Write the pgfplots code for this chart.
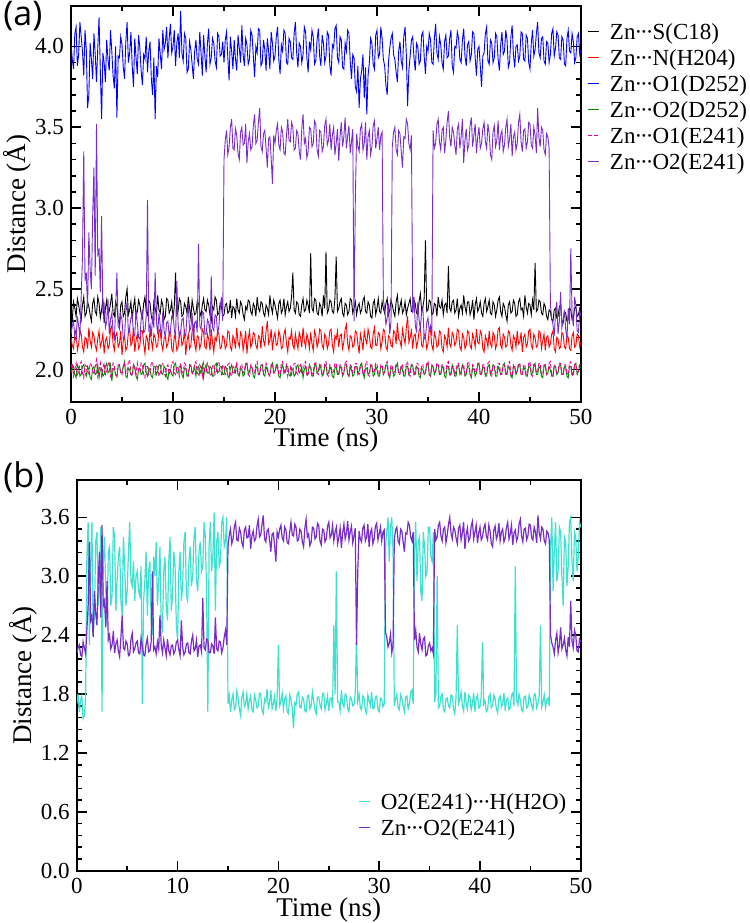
\documentclass[border=0pt]{standalone}
\usepackage{fontspec}
\setmainfont{Liberation Serif}
\newfontfamily\panelfont{Open Sans}
\usepackage{pgfplots}
\usepackage{pgfplotstable}
\pgfplotsset{compat=1.18}
\definecolor{cviol}{RGB}{120,45,200}
\definecolor{cturq}{RGB}{64,224,208}
\definecolor{cgreen}{RGB}{0,140,0}
\newcommand\cd{\kern-0.04em·\kern-0.09em·\kern-0.09em·\kern-0.04em}
\pgfplotstableread{
t S N B G M P C
0.000 2.36 2.20 4.02 1.98 2.01 2.22 1.70
0.125 2.31 2.15 3.92 2.01 2.04 2.27 1.80
0.250 2.42 2.13 3.86 2.02 1.96 2.30 1.62
0.375 2.38 2.22 4.08 1.97 2.00 2.20 1.74
0.500 2.33 2.25 4.12 1.95 2.04 2.18 1.78
0.625 2.44 2.12 3.88 2.03 1.97 2.33 1.55
0.750 2.40 2.16 3.95 2.01 1.99 2.27 1.58
0.875 2.35 2.24 4.15 1.96 2.03 2.21 1.75
1.000 2.31 2.22 4.06 1.97 2.05 2.45 3.20
1.125 2.40 2.14 3.97 2.02 1.98 2.70 3.55
1.250 2.45 2.11 3.82 2.03 1.95 3.35 2.30
1.375 2.33 2.20 4.10 1.98 2.03 2.55 3.10
1.500 2.35 2.19 3.98 1.96 2.02 2.60 3.55
1.625 2.42 2.13 3.62 2.02 1.97 2.38 2.40
1.750 2.39 2.26 3.70 2.00 1.98 2.85 2.60
1.875 2.34 2.18 4.02 1.95 2.04 2.62 3.35
2.000 2.30 2.14 3.92 1.94 2.03 2.50 3.45
2.125 2.41 2.23 3.80 2.01 1.99 2.95 2.70
2.250 2.44 2.21 4.08 2.02 1.97 3.25 2.90
2.375 2.36 2.15 3.95 1.97 2.02 2.58 3.50
2.500 2.34 2.12 3.78 1.98 2.06 3.52 1.62
2.625 2.45 2.19 3.99 2.03 1.96 2.70 3.15
2.750 2.41 2.24 4.18 1.95 2.00 2.75 3.40
2.875 2.32 2.14 3.85 2.00 2.04 2.48 2.85
3.000 2.37 2.17 3.55 2.01 1.96 2.95 2.50
3.125 2.44 2.22 3.96 1.96 2.01 2.35 3.25
3.250 2.29 2.10 3.90 1.97 2.04 2.40 3.30
3.375 2.38 2.18 3.78 2.02 1.97 2.26 2.70
3.500 2.43 2.20 4.04 2.04 1.99 2.30 2.80
3.625 2.34 2.13 3.92 1.98 2.03 2.44 3.50
3.750 2.36 2.15 3.85 1.99 2.05 2.22 3.40
3.875 2.41 2.25 4.10 2.03 1.96 2.31 2.65
4.000 2.47 2.27 3.97 1.93 1.98 2.35 2.95
4.125 2.35 2.16 3.82 2.00 2.04 2.24 3.20
4.250 2.33 2.12 3.74 2.01 2.02 2.18 3.30
4.375 2.42 2.21 4.00 1.97 1.97 2.38 2.75
4.500 2.39 2.23 3.56 1.96 1.95 2.60 2.60
4.625 2.31 2.14 3.94 2.02 2.03 2.27 3.40
4.750 2.28 2.16 3.93 2.03 2.03 2.25 3.10
4.875 2.40 2.24 4.06 1.98 1.98 2.34 2.70
5.000 2.42 2.09 4.01 1.98 1.97 2.31 2.85
5.125 2.33 2.18 3.87 2.02 2.02 2.19 3.25
5.250 2.35 2.21 3.80 2.05 2.04 2.20 3.55
5.375 2.45 2.12 4.03 1.96 1.98 2.36 2.95
5.500 2.50 2.14 4.15 1.95 1.99 2.42 2.90
5.625 2.34 2.23 3.90 2.01 2.05 2.23 3.15
5.750 2.37 2.25 3.96 2.00 2.06 2.26 2.75
5.875 2.42 2.15 4.09 1.97 1.97 2.32 3.00
6.000 2.31 2.17 3.88 1.97 1.96 2.34 3.05
6.125 2.39 2.26 3.75 2.03 2.03 2.22 2.85
6.250 2.44 2.11 4.05 2.02 2.01 2.21 2.80
6.375 2.33 2.18 3.93 1.96 1.97 2.37 3.10
6.500 2.36 2.22 3.83 1.94 2.04 2.29 1.70
6.625 2.43 2.13 4.07 2.00 1.99 2.20 2.75
6.750 2.40 2.15 3.99 2.01 1.98 2.19 2.95
6.875 2.35 2.24 3.85 1.97 2.04 2.31 3.25
7.000 2.32 2.24 3.76 1.98 2.03 2.37 2.60
7.125 2.41 2.16 3.95 2.03 1.97 2.23 3.05
7.250 2.45 2.10 3.92 2.04 1.95 2.24 3.15
7.375 2.36 2.21 4.06 1.98 2.02 2.33 2.55
7.500 2.34 2.19 3.84 1.96 2.02 3.05 2.40
7.625 2.43 2.12 3.97 2.01 1.97 2.25 3.20
7.750 2.41 2.26 4.03 2.00 1.99 2.28 3.00
7.875 2.33 2.18 3.80 1.96 2.04 2.21 3.35
8.000 2.30 2.13 3.70 1.95 2.05 2.33 2.70
8.125 2.42 2.22 3.93 2.02 1.98 2.26 2.95
8.250 2.38 2.20 3.55 2.02 1.97 2.60 3.30
8.375 2.34 2.14 3.88 1.97 2.03 2.30 2.50
8.500 2.46 2.15 3.81 1.99 2.02 2.22 2.45
8.625 2.37 2.25 4.05 2.03 1.96 2.35 3.05
8.750 2.35 2.23 3.95 2.03 1.98 2.27 3.20
8.875 2.43 2.16 3.86 1.98 2.04 2.19 2.70
9.000 2.40 2.12 4.10 1.97 2.04 2.36 2.55
9.125 2.31 2.19 3.98 2.02 1.98 2.24 3.15
9.250 2.33 2.21 4.02 2.01 1.96 2.20 3.40
9.375 2.44 2.14 4.12 1.96 2.02 2.29 2.65
9.500 2.43 2.16 3.93 1.94 2.03 2.30 2.80
9.625 2.35 2.22 4.05 2.00 1.97 2.21 3.25
9.750 2.37 2.25 4.14 2.00 1.99 2.24 3.10
9.875 2.42 2.13 3.96 1.97 2.04 2.33 2.50
10.000 2.31 2.11 4.00 1.96 2.05 2.35 2.35
10.125 2.39 2.21 4.10 2.03 1.98 2.25 3.05
10.250 2.60 2.19 3.88 2.04 1.97 2.19 3.25
10.375 2.34 2.12 4.02 1.98 2.02 2.55 2.75
10.500 2.36 2.14 4.08 1.98 2.01 2.28 2.90
10.625 2.44 2.23 3.93 2.02 1.96 2.20 3.35
10.750 2.42 2.24 4.22 2.02 2.04 2.23 3.45
10.875 2.33 2.15 3.96 1.97 1.99 2.31 2.80
11.000 2.34 2.17 3.91 1.95 1.98 2.32 2.75
11.125 2.41 2.25 4.08 2.01 2.04 2.22 3.15
11.250 2.39 2.09 4.05 2.01 2.03 2.21 3.30
11.375 2.35 2.18 3.84 1.96 1.97 2.34 2.90
11.500 2.45 2.22 3.86 1.97 1.96 2.40 3.00
11.625 2.38 2.13 4.03 2.02 2.03 2.24 3.40
11.750 2.32 2.15 3.98 2.03 2.02 2.26 3.50
11.875 2.43 2.24 3.89 1.98 1.97 2.35 2.95
12.000 2.38 2.27 3.80 1.99 1.99 2.18 2.85
12.125 2.34 2.16 3.97 2.02 2.04 2.29 3.25
12.250 2.35 2.12 4.04 1.96 2.05 2.30 3.35
12.375 2.42 2.21 3.92 2.01 1.98 2.23 3.05
12.500 2.41 2.20 3.89 2.02 1.97 2.78 3.10
12.625 2.36 2.13 4.09 1.97 2.03 2.27 3.55
12.750 2.33 2.16 3.96 2.00 2.01 2.25 3.40
12.875 2.40 2.25 3.82 2.03 1.96 2.36 2.85
13.000 2.44 2.23 4.07 1.95 2.04 2.35 1.62
13.125 2.37 2.14 3.94 2.01 1.99 2.22 3.30
13.250 2.36 2.13 3.84 2.03 1.98 2.22 3.55
13.375 2.43 2.22 4.02 1.98 2.04 2.31 3.05
13.500 2.40 2.19 4.11 1.98 2.02 2.29 3.20
13.625 2.34 2.12 3.89 2.02 1.97 2.21 3.65
13.750 2.30 2.25 3.93 2.01 1.96 2.58 2.65
13.875 2.39 2.17 4.05 1.96 2.03 2.26 3.35
14.000 2.37 2.11 4.02 1.96 2.03 2.24 3.45
14.125 2.45 2.20 3.91 2.03 1.97 2.34 3.10
14.250 2.43 2.18 3.87 2.04 1.99 2.33 3.15
14.375 2.34 2.24 4.08 1.98 2.04 2.22 3.55
14.500 2.35 2.22 4.06 1.99 2.05 2.27 3.60
14.625 2.41 2.13 3.94 2.02 1.98 2.38 3.30
14.750 2.39 2.14 3.95 2.02 1.97 2.45 3.35
14.875 2.33 2.21 4.03 1.97 2.03 2.30 3.60
15.000 2.34 2.20 3.90 1.97 2.02 3.30 1.70
15.125 2.40 2.13 4.04 2.02 1.97 3.42 1.78
15.250 2.41 2.15 4.09 2.01 1.98 3.48 1.62
15.375 2.35 2.24 3.93 1.96 2.03 3.33 1.74
15.500 2.36 2.23 3.79 1.95 2.04 3.38 1.80
15.625 2.43 2.14 4.06 2.01 1.97 3.50 1.64
15.750 2.32 2.12 3.97 2.03 1.96 3.55 1.66
15.875 2.39 2.21 3.86 1.98 2.02 3.37 1.83
16.000 2.38 2.19 4.04 1.98 2.01 3.36 1.76
16.125 2.33 2.13 3.92 2.02 1.97 3.49 1.65
16.250 2.44 2.26 3.85 2.02 2.05 3.45 1.58
16.375 2.37 2.17 4.07 1.97 1.98 3.34 1.77
16.500 2.35 2.14 3.99 1.96 1.97 3.30 1.82
16.625 2.42 2.23 3.90 2.01 2.03 3.47 1.67
16.750 2.40 2.21 4.13 2.00 2.03 3.50 1.70
16.875 2.34 2.12 3.95 1.96 1.98 3.39 1.80
17.000 2.31 2.17 3.88 1.97 1.99 3.40 1.65
17.125 2.39 2.24 4.05 2.03 2.04 3.52 1.73
17.250 2.37 2.10 4.01 2.04 2.04 3.28 1.78
17.375 2.43 2.19 3.89 1.98 1.97 3.41 1.64
17.500 2.42 2.24 3.92 1.99 1.96 3.46 1.62
17.625 2.36 2.14 4.10 2.02 2.03 3.36 1.79
17.750 2.34 2.16 4.07 2.01 2.02 3.38 1.74
17.875 2.41 2.23 3.94 1.96 1.98 3.51 1.66
18.000 2.39 2.22 3.81 1.95 1.98 3.58 1.68
18.125 2.33 2.15 4.00 2.01 2.04 3.40 1.81
18.250 2.45 2.13 3.96 2.02 2.05 3.42 1.80
18.375 2.38 2.21 4.11 1.97 1.97 3.53 1.63
18.500 2.36 2.20 4.10 1.98 1.97 3.62 1.60
18.625 2.42 2.13 3.88 2.03 2.02 3.38 1.75
18.750 2.41 2.27 3.90 2.03 2.03 3.35 1.72
18.875 2.35 2.18 4.04 1.97 1.98 3.46 1.85
19.000 2.33 2.15 3.98 1.96 1.99 3.48 1.66
19.125 2.40 2.24 3.85 2.02 2.04 3.37 1.71
19.250 2.38 2.30 4.05 2.00 2.02 3.25 1.84
19.375 2.34 2.16 3.97 1.97 1.97 3.43 1.65
19.500 2.46 2.18 3.86 1.97 1.96 3.44 1.70
19.625 2.39 2.25 4.09 2.02 2.03 3.31 1.78
19.750 2.35 2.12 4.02 2.04 2.04 3.15 1.63
19.875 2.43 2.20 3.91 1.98 1.98 3.45 1.76
20.000 2.40 2.23 3.94 1.99 1.98 3.40 2.30
20.125 2.36 2.15 4.06 2.03 2.02 3.48 1.68
20.250 2.32 2.16 4.12 2.01 2.03 3.52 1.72
20.375 2.41 2.24 3.92 1.96 1.97 3.39 1.81
20.500 2.43 2.21 3.83 1.95 1.97 3.36 1.65
20.625 2.35 2.13 4.01 2.01 2.04 3.50 1.75
20.750 2.37 2.14 3.97 2.03 2.05 3.47 1.78
20.875 2.44 2.22 4.10 1.98 1.98 3.34 1.62
21.000 2.34 2.25 4.08 1.98 2.00 3.33 1.60
21.125 2.39 2.16 3.90 2.02 2.03 3.45 1.79
21.250 2.42 2.11 3.89 2.02 1.96 3.55 1.74
21.375 2.36 2.20 4.05 1.97 2.01 3.42 1.66
21.500 2.38 2.19 4.03 1.96 2.02 3.41 1.45
21.625 2.45 2.24 3.93 2.01 1.97 3.53 1.71
21.750 2.60 2.15 3.92 2.00 1.99 3.50 1.69
21.875 2.37 2.13 4.08 1.96 2.04 3.36 1.80
22.000 2.35 2.22 4.15 1.97 2.04 3.37 1.82
22.125 2.42 2.17 3.96 2.02 1.98 3.48 1.67
22.250 2.41 2.13 3.87 2.03 1.97 3.46 1.66
22.375 2.34 2.23 4.02 1.98 2.02 3.35 1.77
22.500 2.33 2.20 4.00 1.99 2.03 3.30 1.75
22.625 2.40 2.14 3.90 2.02 1.97 3.49 1.63
22.750 2.44 2.26 3.95 1.95 1.98 3.58 1.62
22.875 2.36 2.18 4.12 2.00 2.04 3.40 1.78
23.000 2.37 2.14 4.09 2.02 2.05 3.43 1.79
23.125 2.43 2.22 3.93 1.97 1.97 3.31 1.65
23.250 2.40 2.19 3.84 1.98 1.96 3.35 1.68
23.375 2.35 2.13 4.03 2.03 2.03 3.50 1.82
23.500 2.72 2.23 3.98 2.01 2.02 3.49 1.73
23.625 2.38 2.16 4.10 1.96 1.97 3.38 1.64
23.750 2.36 2.12 4.06 1.96 1.99 3.40 1.60
23.875 2.44 2.24 3.89 2.02 2.04 3.54 1.77
24.000 2.43 2.21 3.91 2.04 2.04 3.52 1.77
24.125 2.35 2.14 4.04 1.98 1.98 3.36 1.69
24.250 2.34 2.17 4.11 1.99 1.97 3.32 1.65
24.375 2.41 2.25 3.94 2.03 2.02 3.48 1.80
24.500 2.39 2.24 3.88 2.01 2.03 3.47 1.81
24.625 2.33 2.15 4.07 1.96 1.97 3.35 1.64
24.750 2.46 2.13 4.02 1.97 1.98 3.38 1.70
24.875 2.38 2.22 3.90 2.02 2.04 3.51 1.78
25.000 2.73 2.20 3.94 2.03 2.05 3.55 1.63
25.125 2.35 2.13 4.09 1.97 1.97 3.39 1.75
25.250 2.37 2.16 4.07 1.98 1.96 3.42 1.76
25.375 2.43 2.24 3.88 2.02 2.03 3.52 1.66
25.500 2.42 2.25 3.82 2.00 2.02 3.36 2.50
25.625 2.36 2.15 4.01 1.96 1.98 3.45 1.80
25.750 2.35 2.11 3.99 1.95 1.99 3.50 3.05
25.875 2.44 2.21 4.11 2.01 2.04 3.33 1.72
26.000 2.70 2.19 4.13 2.02 2.04 3.40 1.72
26.125 2.36 2.24 3.93 1.97 1.98 3.49 1.63
26.250 2.38 2.14 3.90 1.97 1.97 3.29 1.84
26.375 2.42 2.21 4.06 2.02 2.03 3.44 1.70
26.500 2.44 2.22 4.04 2.01 2.03 3.53 1.67
26.625 2.35 2.13 3.87 1.96 1.97 3.38 1.80
26.750 2.33 2.17 3.86 1.98 1.98 3.44 1.78
26.875 2.41 2.25 4.02 2.03 2.04 3.56 1.65
27.000 2.40 2.28 3.97 2.03 2.05 3.37 1.62
27.125 2.34 2.16 4.10 1.97 1.97 3.45 1.77
27.250 2.36 2.12 4.08 1.96 1.96 3.51 1.75
27.375 2.44 2.21 3.91 2.02 2.03 3.34 1.68
27.500 2.43 2.20 3.80 2.00 2.02 3.41 1.69
27.625 2.35 2.14 3.95 1.96 1.98 3.49 1.81
27.750 2.38 2.15 3.93 1.97 1.99 2.30 2.40
27.875 2.42 2.24 3.75 2.02 2.04 3.05 1.73
28.000 2.34 2.23 3.72 2.02 2.04 3.46 1.80
28.125 2.39 2.16 3.88 1.97 1.98 3.38 1.66
28.250 2.41 2.10 3.62 1.99 1.97 3.35 1.64
28.375 2.35 2.22 3.80 2.03 2.02 3.49 1.78
28.500 2.37 2.18 3.85 2.04 2.03 3.52 1.76
28.625 2.43 2.12 3.95 1.98 1.97 3.36 1.63
28.750 2.45 2.24 3.68 1.95 1.98 3.40 1.60
28.875 2.36 2.19 3.87 2.01 2.04 3.53 1.79
29.000 2.35 2.16 3.58 2.01 2.05 3.30 1.73
29.125 2.42 2.25 3.82 1.97 1.97 3.44 1.68
29.250 2.40 2.21 3.90 1.98 1.96 3.48 1.82
29.375 2.33 2.14 4.05 2.02 2.03 3.33 1.65
29.500 2.32 2.13 4.02 2.03 2.02 3.38 1.66
29.625 2.41 2.22 3.89 1.96 1.98 3.51 1.77
29.750 2.43 2.26 3.86 1.97 1.99 3.54 1.78
29.875 2.34 2.15 4.07 2.02 2.04 3.37 1.64
30.000 2.38 2.15 4.10 2.00 2.04 3.43 1.62
30.125 2.44 2.23 3.93 1.96 1.97 3.50 1.76
30.250 2.36 2.22 3.95 1.96 1.97 3.36 1.75
30.375 2.35 2.13 4.12 2.02 2.03 3.45 1.67
30.500 2.42 2.17 4.05 2.02 2.03 3.47 1.70
30.625 2.38 2.25 3.92 1.97 1.98 2.43 3.30
30.750 2.35 2.24 3.88 1.99 1.98 2.38 3.45
30.875 2.41 2.14 3.76 2.03 2.04 2.28 3.60
31.000 2.44 2.12 3.70 2.03 2.05 2.32 3.15
31.125 2.34 2.21 3.90 1.97 1.97 2.41 3.50
31.250 2.37 2.20 3.99 1.95 1.96 2.22 3.60
31.375 2.43 2.15 4.05 2.01 2.03 2.30 3.25
31.500 2.40 2.14 4.08 2.01 2.02 3.38 1.68
31.625 2.36 2.24 3.95 1.96 1.98 3.47 1.75
31.750 2.33 2.23 3.92 1.97 1.99 3.50 1.80
31.875 2.42 2.16 3.84 2.02 2.04 3.36 1.66
32.000 2.46 2.29 3.78 2.04 2.04 3.33 1.64
32.125 2.35 2.19 3.97 1.98 1.97 3.48 1.79
32.250 2.39 2.18 4.03 1.98 1.97 3.46 1.75
32.375 2.43 2.14 3.91 2.02 2.03 3.35 1.68
32.500 2.35 2.25 3.87 2.00 2.03 3.25 1.62
32.625 2.37 2.20 4.06 1.96 1.97 3.44 1.77
32.750 2.42 2.16 4.12 1.96 1.98 3.43 1.78
32.875 2.34 2.26 3.95 2.02 2.04 3.55 1.65
33.000 2.38 2.33 3.63 2.02 2.05 3.52 1.70
33.125 2.41 2.17 3.85 1.97 1.97 3.40 1.82
33.250 2.44 2.20 3.94 1.99 1.96 3.36 1.84
33.375 2.36 2.24 4.04 2.03 2.03 3.45 1.70
33.500 2.36 2.13 4.06 2.03 2.02 2.35 3.25
33.625 2.43 2.21 3.93 1.97 1.97 2.45 3.55
33.750 2.41 2.22 3.85 1.97 1.99 2.28 2.95
33.875 2.35 2.14 4.02 2.02 2.04 2.23 3.35
34.000 2.34 2.17 4.00 2.01 2.04 2.42 3.40
34.125 2.42 2.24 3.89 1.96 1.98 2.31 2.85
34.250 2.47 2.26 3.91 1.95 1.97 2.25 2.75
34.375 2.37 2.15 4.07 2.01 2.03 2.36 3.45
34.500 2.39 2.14 4.09 2.00 2.03 2.38 3.30
34.625 2.44 2.22 3.94 1.97 1.97 2.19 3.00
34.750 2.80 2.21 3.83 1.98 1.98 2.20 3.05
34.875 2.36 2.13 4.00 2.03 2.04 2.29 3.50
35.000 2.37 2.16 3.97 2.04 2.05 2.32 3.50
35.125 2.43 2.25 4.08 1.97 1.97 2.24 3.20
35.250 2.42 2.24 4.04 1.96 1.96 2.27 3.15
35.375 2.34 2.15 3.90 2.02 2.03 2.21 3.45
35.500 2.35 2.12 3.89 2.02 2.02 3.48 1.72
35.625 2.41 2.23 4.05 1.97 1.98 3.37 1.80
35.750 2.40 2.20 4.14 1.99 1.99 3.40 3.00
35.875 2.33 2.14 3.96 2.03 2.04 3.52 1.66
36.000 2.45 2.15 3.92 2.03 2.04 3.55 1.68
36.125 2.39 2.24 4.06 1.97 1.97 3.41 1.78
36.250 2.38 2.23 4.01 1.97 1.97 3.36 1.80
36.375 2.43 2.13 3.90 2.02 2.03 3.48 1.64
36.500 2.34 2.11 3.86 2.01 2.03 3.50 1.62
36.625 2.40 2.21 4.03 1.96 1.98 3.34 1.75
36.750 2.41 2.19 4.07 1.95 1.98 3.42 1.76
36.875 2.35 2.14 3.93 2.02 2.04 3.53 1.68
37.000 2.64 2.26 3.94 2.02 2.05 3.60 1.66
37.125 2.38 2.16 4.05 1.97 1.97 3.44 1.79
37.250 2.36 2.14 4.10 1.98 1.96 3.38 1.78
37.375 2.42 2.23 3.88 2.03 2.02 3.50 1.65
37.500 2.43 2.21 3.84 2.00 2.02 3.47 1.60
37.625 2.35 2.15 4.00 1.96 1.97 3.39 1.77
37.750 2.37 2.17 3.99 1.96 1.99 3.33 2.50
37.875 2.44 2.25 4.09 2.02 2.04 3.49 1.70
38.000 2.33 2.24 4.05 2.03 2.04 3.52 1.74
38.125 2.38 2.14 3.92 1.97 1.98 3.37 1.82
38.250 2.40 2.12 3.90 1.99 1.97 3.44 1.68
38.375 2.35 2.22 4.04 2.03 2.03 3.55 1.63
38.500 2.46 2.20 4.11 2.01 2.03 3.28 1.82
38.625 2.39 2.13 3.94 1.96 1.97 3.42 1.72
38.750 2.35 2.15 3.88 1.97 1.98 3.49 1.65
38.875 2.42 2.24 4.01 2.02 2.04 3.36 1.79
39.000 2.42 2.23 4.03 2.02 2.05 3.39 1.77
39.125 2.34 2.15 3.91 1.97 1.97 3.51 1.64
39.250 2.37 2.13 3.95 1.95 1.96 3.56 1.70
39.375 2.43 2.22 4.09 2.01 2.03 3.38 1.81
39.500 2.31 2.19 4.08 2.00 2.02 3.45 1.62
39.625 2.40 2.14 3.93 1.96 1.98 3.52 1.75
39.750 2.44 2.25 3.82 1.98 1.99 3.34 1.79
39.875 2.36 2.17 3.98 2.03 2.04 3.44 1.66
40.000 2.38 2.16 4.00 2.04 2.04 3.50 1.67
40.125 2.42 2.24 3.88 1.97 1.97 3.37 1.78
40.250 2.35 2.22 3.75 1.97 1.97 3.40 2.33
40.375 2.33 2.13 3.94 2.02 2.03 3.49 1.70
40.500 2.41 2.11 3.96 2.01 2.03 3.53 1.73
40.625 2.44 2.21 4.08 1.96 1.97 3.41 1.62
40.750 2.36 2.18 4.12 1.96 1.98 3.37 1.64
40.875 2.39 2.14 3.91 2.02 2.04 3.52 1.77
41.000 2.43 2.24 3.89 2.03 2.05 3.46 1.80
41.125 2.35 2.16 4.04 1.97 1.97 3.33 1.66
41.250 2.34 2.14 4.02 1.99 1.96 3.30 1.68
41.375 2.42 2.23 3.90 2.03 2.03 3.47 1.79
41.500 2.40 2.21 3.93 2.02 2.02 3.51 1.75
41.625 2.33 2.13 4.08 1.96 1.98 3.38 1.65
41.750 2.37 2.16 4.06 1.96 1.99 3.42 1.61
41.875 2.43 2.25 3.92 2.02 2.04 3.54 1.76
42.000 2.45 2.26 3.85 2.00 2.04 3.36 1.78
42.125 2.36 2.15 4.01 1.97 1.97 3.45 1.67
42.250 2.33 2.13 4.09 1.98 1.97 3.48 1.70
42.375 2.41 2.22 3.95 2.03 2.03 3.35 1.81
42.500 2.39 2.20 3.97 2.04 2.03 3.39 1.63
42.625 2.34 2.14 4.10 1.97 1.97 3.50 1.74
42.750 2.30 2.15 4.04 1.97 1.98 3.55 1.76
42.875 2.40 2.24 3.87 2.02 2.04 3.38 1.64
43.000 2.42 2.23 3.90 2.01 2.05 3.43 1.66
43.125 2.35 2.15 4.06 1.96 1.97 3.52 1.79
43.250 2.36 2.12 4.13 1.95 1.96 3.32 1.81
43.375 2.43 2.21 3.95 2.02 2.03 3.44 1.68
43.500 2.41 2.19 3.87 2.02 2.02 3.47 3.10
43.625 2.33 2.14 4.00 1.97 1.98 3.36 1.74
43.750 2.34 2.24 4.01 1.99 1.99 3.40 1.69
43.875 2.42 2.16 3.91 2.03 2.04 3.53 1.80
44.000 2.44 2.17 3.94 2.03 2.04 3.58 1.74
44.125 2.37 2.23 4.09 1.97 1.97 3.41 1.64
44.250 2.38 2.11 4.08 1.97 1.97 3.35 1.62
44.375 2.33 2.20 3.92 2.02 2.03 3.48 1.77
44.500 2.46 2.22 3.91 2.00 2.03 3.49 1.78
44.625 2.39 2.14 4.07 1.96 1.97 3.37 1.66
44.750 2.35 2.16 4.05 1.96 1.98 3.41 1.67
44.875 2.41 2.24 3.90 2.02 2.04 3.53 1.79
45.000 2.40 2.25 3.86 2.02 2.05 3.52 1.75
45.125 2.34 2.15 4.02 1.97 1.97 3.39 1.68
45.250 2.43 2.13 4.10 1.98 1.96 3.37 1.64
45.375 2.37 2.22 3.94 2.03 2.03 3.50 1.80
45.500 2.66 2.20 3.98 2.04 2.02 3.45 1.80
45.625 2.36 2.14 4.08 1.97 1.98 3.34 1.66
45.750 2.37 2.15 4.15 1.97 1.99 3.62 1.70
45.875 2.43 2.24 3.96 2.02 2.04 3.44 1.78
46.000 2.42 2.23 3.93 2.01 2.04 3.38 2.50
46.125 2.35 2.13 4.05 1.96 1.97 3.50 1.67
46.250 2.34 2.18 4.06 1.95 1.97 3.48 1.72
46.375 2.41 2.22 3.91 2.02 2.03 3.36 1.79
46.500 2.39 2.12 3.89 2.03 2.03 3.33 1.66
46.625 2.33 2.20 4.03 1.97 1.97 3.46 1.74
46.750 2.31 2.21 4.02 1.98 1.98 3.44 1.76
46.875 2.37 2.14 3.90 2.02 2.04 3.37 1.68
47.000 2.36 2.16 3.95 2.00 2.05 2.40 3.30
47.125 2.31 2.22 4.08 1.96 1.97 2.32 3.60
47.250 2.30 2.24 4.11 1.96 1.96 2.28 2.85
47.375 2.37 2.13 3.94 2.02 2.03 2.21 3.25
47.500 2.38 2.11 3.99 2.02 2.02 2.35 3.55
47.625 2.32 2.20 4.09 1.97 1.98 2.42 2.95
47.750 2.33 2.19 4.07 1.98 1.99 2.22 3.05
47.875 2.39 2.13 3.93 2.03 2.04 2.30 3.50
48.000 2.40 2.14 3.92 2.03 2.04 2.48 3.45
48.125 2.30 2.23 4.06 1.97 1.97 2.26 3.00
48.250 2.29 2.22 4.04 1.97 1.97 2.30 2.70
48.375 2.36 2.14 3.89 2.02 2.03 2.37 3.40
48.500 2.35 2.13 3.88 2.01 2.03 2.25 3.35
48.625 2.30 2.21 4.05 1.96 1.97 2.19 2.90
48.750 2.31 2.20 4.10 1.95 1.98 2.38 3.10
48.875 2.38 2.13 3.97 2.02 2.04 2.28 3.55
49.000 2.37 2.12 3.96 2.02 2.05 2.75 3.60
49.125 2.31 2.21 4.08 1.97 1.97 2.34 3.15
49.250 2.32 2.23 4.03 1.98 1.96 2.27 2.95
49.375 2.38 2.14 3.90 2.03 2.03 2.45 3.45
49.500 2.39 2.15 3.93 2.04 2.02 2.40 3.40
49.625 2.33 2.22 4.06 1.97 1.98 2.24 3.05
49.750 2.34 2.21 4.08 1.99 1.99 2.23 3.20
49.875 2.38 2.14 3.95 2.02 2.04 2.36 3.55
50.000 2.36 2.17 3.98 2.01 2.03 2.33 3.50
}\data
\pgfplotsset{
  panel/.style={
    scale only axis,
    xmin=0, xmax=50,
    xtick={0,10,20,30,40,50},
    minor xtick={5,15,25,35,45},
    minor y tick num=4,
    tick align=inside,
    major tick length=5pt,
    minor tick length=2.5pt,
    axis line style={line width=1pt},
    every tick/.style={line width=0.8pt, black},
    tick label style={font=\fontsize{11.5}{13}\selectfont},
    /pgf/number format/assume math mode=true,
    label style={font=\fontsize{13.5}{15}\selectfont},
    xlabel={Time (ns)},
    ylabel={Distance (Å)},
    yticklabel style={/pgf/number format/fixed, /pgf/number format/fixed zerofill, /pgf/number format/precision=1},
    legend cell align=left,
    legend image code/.code={\draw[#1, line width=0.8pt] (0pt,1.3pt) -- (5.5pt,1.3pt);},
  },
}
\begin{document}
\begin{tikzpicture}
\useasboundingbox (0,0) rectangle (375pt,-461.5pt);
\node[anchor=north west, inner sep=0pt, font=\panelfont\fontsize{17}{19}\selectfont] at (1.5pt,-0.5pt) {(a)};
\node[anchor=north west, inner sep=0pt, font=\panelfont\fontsize{17}{19}\selectfont] at (1.5pt,-230.5pt) {(b)};
\begin{axis}[panel,
  at={(35.5pt,-3pt)}, anchor=north west,
  width=255pt, height=198pt,
  ymin=1.8, ymax=4.25,
  ytick={2.0,2.5,3.0,3.5,4.0},
  xlabel style={at={(axis description cs:0.5,-0.096)}, anchor=center},
  ylabel style={at={(axis description cs:-0.106,0.5)}, anchor=center},
  legend style={at={(axis description cs:1,1)}, anchor=north west, xshift=3pt, yshift=-9.3pt,
    draw=none, fill=none, inner sep=0pt, row sep=4pt,
    font=\fontsize{11.5}{13}\selectfont,
    nodes={inner sep=0pt, text height=7pt, text depth=2pt},
    /tikz/every odd column/.append style={column sep=5pt}},
]
\addplot[black, line width=0.45pt] table[x=t,y=S] {\data};
\addlegendentry{Zn\cd S(C18)}
\addplot[red, line width=0.45pt] table[x=t,y=N] {\data};
\addlegendentry{Zn\cd N(H204)}
\addplot[blue, line width=0.45pt] table[x=t,y=B] {\data};
\addlegendentry{Zn\cd O1(D252)}
\addplot[cgreen, line width=0.45pt] table[x=t,y=G] {\data};
\addlegendentry{Zn\cd O2(D252)}
\addplot[magenta, line width=0.45pt, dash pattern=on 2pt off 1pt] table[x=t,y=M] {\data};
\addlegendentry{Zn\cd O1(E241)}
\addplot[cviol, line width=0.45pt] table[x=t,y=P] {\data};
\addlegendentry{Zn\cd O2(E241)}
\end{axis}
\begin{axis}[panel,
  at={(38.4pt,-240pt)}, anchor=north west,
  width=252pt, height=195.4pt,
  ymin=0, ymax=3.98,
  ytick={0,0.6,1.2,1.8,2.4,3.0,3.6},
  xlabel style={at={(axis description cs:0.5,-0.0997)}, anchor=center},
  ylabel style={at={(axis description cs:-0.107,0.5)}, anchor=center},
  legend style={at={(axis description cs:0.5575,0.195)}, anchor=north west,
    draw=none, fill=none, inner sep=0pt, row sep=4pt,
    font=\fontsize{11.5}{13}\selectfont,
    nodes={inner sep=0pt, text height=7pt, text depth=2pt},
    /tikz/every odd column/.append style={column sep=5pt}},
]
\addplot[cturq, line width=0.6pt] table[x=t,y=C] {\data};
\addlegendentry{O2(E241)\cd H(H2O)}
\addplot[cviol, line width=0.6pt] table[x=t,y=P] {\data};
\addlegendentry{Zn\cd O2(E241)}
\end{axis}
\end{tikzpicture}
\end{document}
